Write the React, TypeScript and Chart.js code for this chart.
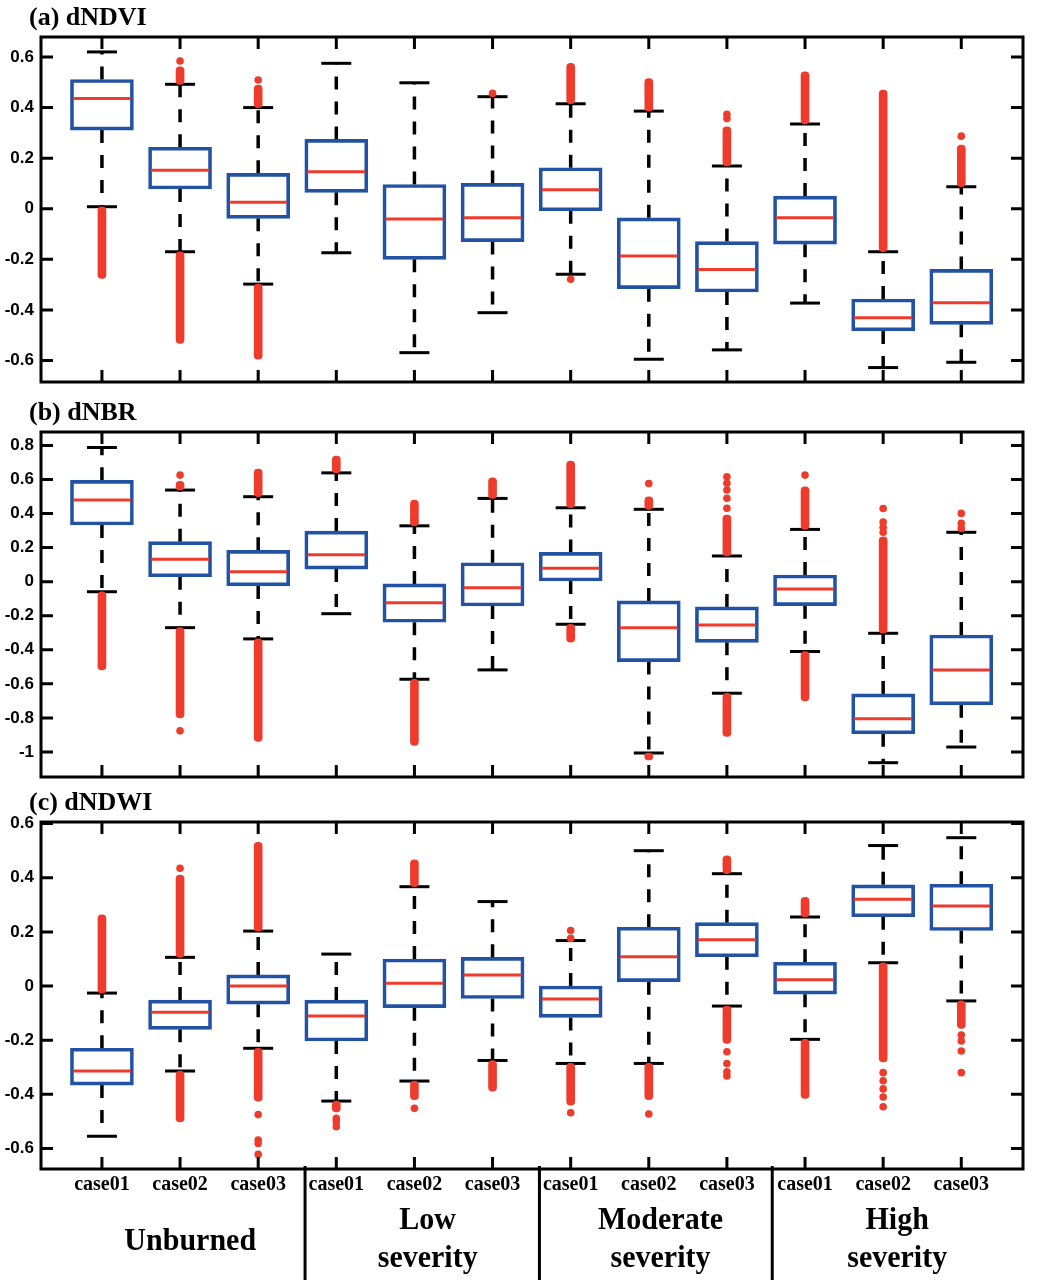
import React, { useEffect, useRef } from 'react';
import { Chart, registerables } from 'chart.js';

Chart.register(...registerables);

// ---------- categories & labels ----------
const caseLabels = ['case01', 'case02', 'case03', 'case01', 'case02', 'case03', 'case01', 'case02', 'case03', 'case01', 'case02', 'case03'];
const groupLabels: string[][] = [['Unburned'], ['Low', 'severity'], ['Moderate', 'severity'], ['High', 'severity']];
const groupCenters = [2.13, 5.17, 8.15, 11.18];
const groupBoundaries = [3.6, 6.6, 9.58];

// ---------- (a) dNDVI ----------
const ndviWhiskerHigh = [0.62, 0.492, 0.40, 0.575, 0.498, 0.443, 0.415, 0.386, 0.169, 0.335, -0.17, 0.087];
const ndviQ3 = [0.511, 0.243, 0.14, 0.274, 0.096, 0.10, 0.162, -0.036, -0.13, 0.05, -0.357, -0.24];
const ndviMedian = [0.436, 0.152, 0.026, 0.146, -0.041, -0.036, 0.075, -0.187, -0.24, -0.036, -0.431, -0.372];
const ndviQ1 = [0.311, 0.078, -0.038, 0.065, -0.2, -0.13, -0.008, -0.316, -0.329, -0.14, -0.483, -0.457];
const ndviWhiskerLow = [0.008, -0.17, -0.298, -0.174, -0.569, -0.411, -0.259, -0.595, -0.558, -0.373, -0.628, -0.607];
const ndviOutHighEnd = [null, 0.561, 0.489, null, null, null, 0.575, 0.515, 0.324, 0.541, 0.469, 0.252];
const ndviOutLowEnd = [-0.275, -0.532, -0.595, null, null, null, null, null, null, null, null, null];
const ndviOutPoints: [number, number][] = [[2, 0.584], [3, 0.509], [6, 0.456], [7, -0.279], [9, 0.357], [9, 0.373], [12, 0.287]];

// ---------- (b) dNBR ----------
const nbrWhiskerHigh = [0.788, 0.538, 0.499, 0.639, 0.328, 0.489, 0.434, 0.425, 0.151, 0.307, -0.303, 0.29];
const nbrQ3 = [0.595, 0.235, 0.184, 0.297, -0.013, 0.111, 0.172, -0.113, -0.148, 0.039, -0.659, -0.313];
const nbrMedian = [0.479, 0.131, 0.059, 0.158, -0.123, -0.035, 0.079, -0.27, -0.254, -0.043, -0.805, -0.518];
const nbrQ1 = [0.333, 0.029, -0.025, 0.074, -0.238, -0.143, 0.004, -0.469, -0.356, -0.141, -0.893, -0.723];
const nbrWhiskerLow = [-0.059, -0.27, -0.336, -0.188, -0.573, -0.518, -0.25, -1.006, -0.655, -0.41, -1.063, -0.971];
const nbrOutHighEnd = [null, 0.59, 0.661, 0.737, 0.479, 0.61, 0.708, 0.499, 0.391, 0.557, 0.264, null];
const nbrOutLowEnd = [-0.518, -0.80, -0.938, null, -0.962, null, -0.355, -1.046, -0.909, -0.70, null, null];
const nbrOutPoints: [number, number][] = [
  [2, 0.626], [2, -0.876], [8, 0.577], [9, 0.616], [9, 0.578], [9, 0.538], [9, 0.49], [9, 0.431],
  [10, 0.626], [11, 0.43], [11, 0.35], [11, 0.32], [11, 0.29], [12, 0.401], [12, 0.343], [12, 0.313],
];

// ---------- (c) dNDWI ----------
const ndwiWhiskerHigh = [-0.026, 0.106, 0.203, 0.118, 0.367, 0.312, 0.168, 0.50, 0.415, 0.255, 0.519, 0.548];
const ndwiQ3 = [-0.23, -0.052, 0.041, -0.052, 0.1, 0.106, 0.0, 0.217, 0.234, 0.088, 0.374, 0.376];
const ndwiMedian = [-0.314, -0.097, 0.0, -0.111, 0.01, 0.041, -0.048, 0.108, 0.171, 0.023, 0.321, 0.296];
const ndwiQ1 = [-0.366, -0.16, -0.067, -0.203, -0.08, -0.046, -0.116, 0.016, 0.108, -0.03, 0.256, 0.205];
const ndwiWhiskerLow = [-0.555, -0.314, -0.23, -0.425, -0.351, -0.275, -0.286, -0.286, -0.074, -0.197, 0.086, -0.055];
const ndwiOutHighEnd = [0.263, 0.41, 0.531, null, 0.466, null, null, null, 0.481, 0.328, null, null];
const ndwiOutLowEnd = [null, -0.502, -0.425, -0.465, -0.42, -0.388, -0.44, -0.42, -0.212, -0.415, -0.28, -0.157];
const ndwiOutPoints: [number, number][] = [
  [2, 0.435], [3, -0.475], [3, -0.569], [3, -0.582], [3, -0.622], [4, -0.489], [4, -0.502], [4, -0.52],
  [5, -0.452], [7, 0.205], [7, 0.176], [7, -0.468], [8, -0.473], [9, -0.243], [9, -0.286], [9, -0.317], [9, -0.332],
  [11, -0.32], [11, -0.35], [11, -0.38], [11, -0.41], [11, -0.446], [12, -0.181], [12, -0.203], [12, -0.24], [12, -0.32],
];

const BLUE = '#2152a3';
const RED = '#ee3b2b';

type Panel = {
  title: string;
  top: number;
  height: number;
  axisHeight: number;
  yMin: number;
  yMax: number;
  showX: boolean;
  whiskerLow: number[];
  q1: number[];
  median: number[];
  q3: number[];
  whiskerHigh: number[];
  outLowEnd: (number | null)[];
  outHighEnd: (number | null)[];
  points: [number, number][];
};

const panels: Panel[] = [
  {
    title: '(a) dNDVI', top: 0, height: 400, axisHeight: 18, yMin: -0.685, yMax: 0.679, showX: false,
    whiskerLow: ndviWhiskerLow, q1: ndviQ1, median: ndviMedian, q3: ndviQ3, whiskerHigh: ndviWhiskerHigh,
    outLowEnd: ndviOutLowEnd, outHighEnd: ndviOutHighEnd, points: ndviOutPoints,
  },
  {
    title: '(b) dNBR', top: 395, height: 400, axisHeight: 18, yMin: -1.147, yMax: 0.879, showX: false,
    whiskerLow: nbrWhiskerLow, q1: nbrQ1, median: nbrMedian, q3: nbrQ3, whiskerHigh: nbrWhiskerHigh,
    outLowEnd: nbrOutLowEnd, outHighEnd: nbrOutHighEnd, points: nbrOutPoints,
  },
  {
    title: '(c) dNDWI', top: 785, height: 499, axisHeight: 115, yMin: -0.676, yMax: 0.606, showX: true,
    whiskerLow: ndwiWhiskerLow, q1: ndwiQ1, median: ndwiMedian, q3: ndwiQ3, whiskerHigh: ndwiWhiskerHigh,
    outLowEnd: ndwiOutLowEnd, outHighEnd: ndwiOutHighEnd, points: ndwiOutPoints,
  },
];

const fmtTick = (v: number | string) => {
  const r = Math.round(Number(v) * 10) / 10;
  return (Object.is(r, -0) ? 0 : r).toString();
};

function makeBoxPlugin(p: Panel) {
  return {
    id: 'boxplotParts',
    beforeDatasetsDraw(chart: any) {
      const { ctx, scales } = chart;
      const x = scales.x;
      const y = scales.y;
      ctx.save();
      ctx.strokeStyle = '#000';
      ctx.lineWidth = 3.5;
      ctx.setLineDash([13, 12]);
      p.median.forEach((_, i) => {
        const cx = x.getPixelForValue(i + 1);
        ctx.beginPath();
        ctx.moveTo(cx, y.getPixelForValue(p.q3[i]));
        ctx.lineTo(cx, y.getPixelForValue(p.whiskerHigh[i]));
        ctx.stroke();
        ctx.beginPath();
        ctx.moveTo(cx, y.getPixelForValue(p.q1[i]));
        ctx.lineTo(cx, y.getPixelForValue(p.whiskerLow[i]));
        ctx.stroke();
      });
      ctx.setLineDash([]);
      ctx.lineWidth = 3;
      p.median.forEach((_, i) => {
        const cx = x.getPixelForValue(i + 1);
        [p.whiskerHigh[i], p.whiskerLow[i]].forEach((v) => {
          const py = y.getPixelForValue(v);
          ctx.beginPath();
          ctx.moveTo(cx - 15, py);
          ctx.lineTo(cx + 15, py);
          ctx.stroke();
        });
      });
      ctx.restore();
    },
    afterDatasetsDraw(chart: any) {
      const { ctx, scales, chartArea } = chart;
      const x = scales.x;
      const y = scales.y;
      ctx.save();
      // medians
      ctx.strokeStyle = RED;
      ctx.lineWidth = 3;
      p.median.forEach((m, i) => {
        const cx = x.getPixelForValue(i + 1);
        const py = y.getPixelForValue(m);
        ctx.beginPath();
        ctx.moveTo(cx - 29, py);
        ctx.lineTo(cx + 29, py);
        ctx.stroke();
      });
      // frame
      ctx.strokeStyle = '#000';
      ctx.lineWidth = 3;
      const { left, right, top, bottom } = chartArea;
      ctx.strokeRect(left, top, right - left, bottom - top);
      // inward ticks
      y.ticks.forEach((t: any) => {
        const py = y.getPixelForValue(t.value);
        ctx.beginPath();
        ctx.moveTo(left, py);
        ctx.lineTo(left + 12, py);
        ctx.moveTo(right, py);
        ctx.lineTo(right - 12, py);
        ctx.stroke();
      });
      caseLabels.forEach((_, i) => {
        const px = x.getPixelForValue(i + 1);
        ctx.beginPath();
        ctx.moveTo(px, top);
        ctx.lineTo(px, top + 12);
        ctx.moveTo(px, bottom);
        ctx.lineTo(px, bottom - 12);
        ctx.stroke();
      });
      // group separators below the last panel
      if (p.showX) {
        groupBoundaries.forEach((b) => {
          const px = x.getPixelForValue(b);
          ctx.beginPath();
          ctx.moveTo(px, bottom - 3);
          ctx.lineTo(px, chart.height - 4);
          ctx.stroke();
        });
      }
      ctx.restore();
    },
  };
}

function PanelChart({ p }: { p: Panel }) {
  const ref = useRef<HTMLCanvasElement>(null);
  useEffect(() => {
    if (!ref.current) return;
    const idx = p.median.map((_, i) => i + 1);
    const boxData = idx.map((x, i) => ({ x, y: [p.q1[i], p.q3[i]] }));
    const outData: any[] = [];
    idx.forEach((x, i) => {
      const hi = p.outHighEnd[i];
      const lo = p.outLowEnd[i];
      if (hi !== null) outData.push({ x, y: [p.whiskerHigh[i], hi] });
      if (lo !== null) outData.push({ x, y: [lo, p.whiskerLow[i]] });
    });
    const ptData = p.points.map(([c, v]) => ({ x: c, y: v }));

    const chart = new Chart(ref.current, {
      type: 'bar',
      data: {
        datasets: [
          {
            type: 'bar',
            data: boxData as any,
            backgroundColor: 'rgba(255,255,255,0)',
            borderColor: BLUE,
            borderWidth: 3,
            borderSkipped: false,
            barThickness: 63,
            grouped: false,
          } as any,
          {
            type: 'bar',
            data: outData,
            backgroundColor: RED,
            borderWidth: 0,
            borderSkipped: false,
            borderRadius: 4,
            barThickness: 8,
            grouped: false,
          } as any,
          {
            type: 'scatter',
            data: ptData,
            backgroundColor: RED,
            borderWidth: 0,
            pointRadius: 3.8,
          } as any,
        ],
      },
      options: {
        responsive: false,
        animation: false,
        events: [],
        layout: { padding: { top: 37, right: 28, left: 0, bottom: 0 } },
        plugins: { legend: { display: false }, tooltip: { enabled: false }, title: { display: false } },
        scales: {
          x: {
            type: 'linear',
            min: 0.22,
            max: 12.79,
            offset: false,
            grid: { display: false, drawTicks: false },
            border: { display: false },
            ticks: {
              display: p.showX,
              stepSize: 1,
              autoSkip: false,
              maxRotation: 0,
              includeBounds: false,
              padding: 4,
              color: '#000',
              font: { family: '"Liberation Serif", "Times New Roman", serif', weight: 'bold', size: 20 },
              callback: (v: any) => caseLabels[Math.round(Number(v)) - 1] ?? '',
            },
            afterFit: (s: any) => {
              s.height = p.axisHeight;
            },
          } as any,
          y: {
            type: 'linear',
            min: p.yMin,
            max: p.yMax,
            grid: { display: false, drawTicks: false },
            border: { display: false },
            ticks: {
              stepSize: 0.2,
              includeBounds: false,
              padding: 7,
              color: '#000',
              font: { family: '"Liberation Sans", Arial, sans-serif', weight: 'bold', size: 17 },
              callback: (v: any) => fmtTick(v),
            },
            afterFit: (s: any) => {
              s.width = 41;
            },
          } as any,
        },
      },
      plugins: [makeBoxPlugin(p)],
    });
    return () => chart.destroy();
  }, [p]);

  return (
    <canvas
      ref={ref}
      width={1051}
      height={p.height}
      style={{ position: 'absolute', left: 0, top: p.top, width: 1051, height: p.height }}
    />
  );
}

const titleBaselineTops = [4, 399, 789];
const serif = '"Liberation Serif", "Times New Roman", serif';

export default function App() {
  // pixel position of a category value (same mapping as the x axis min/max and chart area)
  const catPx = (c: number) => 41 + ((c - 0.22) / (12.79 - 0.22)) * (1023 - 41);
  return (
    <div style={{ position: 'absolute', left: 0, top: 0, width: 1051, height: 1284, background: '#fff', overflow: 'hidden' }}>
      {panels.map((p) => (
        <PanelChart key={p.title} p={p} />
      ))}
      {panels.map((p, i) => (
        <div
          key={'t' + p.title}
          style={{
            position: 'absolute', left: 29, top: titleBaselineTops[i], fontFamily: serif, fontWeight: 'bold',
            fontSize: 26, lineHeight: '26px', color: '#000', whiteSpace: 'nowrap',
          }}
        >
          {p.title}
        </div>
      ))}
      {groupLabels.map((lines, gi) => (
        <div
          key={'g' + gi}
          style={{
            position: 'absolute', left: catPx(groupCenters[gi]) - 110, width: 220,
            top: lines.length === 1 ? 1221 : 1202, textAlign: 'center', fontFamily: serif, fontWeight: 'bold',
            fontSize: 30, lineHeight: '35px', color: '#000', transform: 'scaleY(1.08)',
          }}
        >
          {lines.map((l) => (
            <div key={l}>{l}</div>
          ))}
        </div>
      ))}
    </div>
  );
}
